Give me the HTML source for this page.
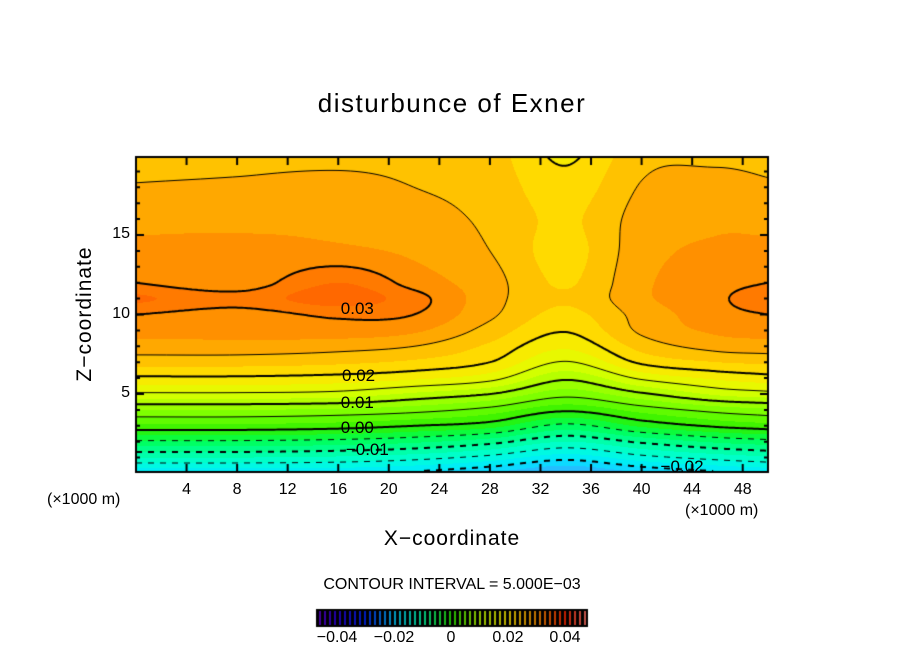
<!DOCTYPE html>
<html><head><meta charset="utf-8"><style>
body{margin:0;background:#fff;width:904px;height:654px;overflow:hidden;font-family:"Liberation Sans",sans-serif}
#wrap{position:relative;width:904px;height:654px}
canvas{position:absolute;left:0;top:0}
.t{position:absolute;color:#000;white-space:nowrap}
</style></head><body>
<div id="wrap">
<canvas id="c" width="904" height="654"></canvas>
<div class="t" style="left:0;width:904px;text-align:center;top:88px;font-size:26px;letter-spacing:1.5px">disturbunce of Exner</div>
<div class="t" style="left:352px;width:200px;text-align:center;top:527px;font-size:21px;letter-spacing:1px">X−coordinate</div>
<div class="t" style="left:-15px;width:200px;text-align:center;top:302px;font-size:21px;letter-spacing:1px;transform:rotate(-90deg)">Z−coordinate</div>
<div class="t" style="left:47px;top:491px;font-size:16px">(×1000 m)</div>
<div class="t" style="left:685px;top:502px;font-size:16px">(×1000 m)</div>
<div class="t" style="left:0;width:904px;text-align:center;top:576px;font-size:16px">CONTOUR INTERVAL = 5.000E−03</div>
<div id="labels"></div>
</div>
<script>
// grid data
const xs=[0,8,16,22,28,34,40,46,50];
const zs=[0,1,2,3,4,5,6,7,8,9,10,11,12,14,16,18,20];
const col0 =[-0.020,-0.0125,-0.0055,0.0018,0.0075,0.0145,0.0195,0.0235,0.0265,0.0285,0.030,0.033,0.030,0.028,0.027,0.0252,0.024];
const col8 =[-0.020,-0.0125,-0.0055,0.0018,0.0075,0.0145,0.0195,0.0235,0.0265,0.0285,0.029,0.031,0.0285,0.028,0.027,0.0255,0.024];
const col16=[-0.020,-0.013,-0.006,0.0012,0.007,0.014,0.019,0.023,0.026,0.029,0.0305,0.034,0.0325,0.028,0.027,0.026,0.024];
const col22=[-0.021,-0.014,-0.007,0.0,0.006,0.012,0.018,0.022,0.025,0.028,0.030,0.031,0.029,0.027,0.026,0.025,0.024];
const col28=[-0.023,-0.016,-0.009,-0.0015,0.004,0.010,0.016,0.020,0.022,0.024,0.0255,0.026,0.026,0.025,0.0245,0.024,0.0235];
const col34=[-0.026,-0.019,-0.0125,-0.0058,0.0005,0.006,0.0105,0.0148,0.018,0.0202,0.0218,0.0228,0.0222,0.0215,0.022,0.021,0.0195];
const col40=[-0.023,-0.016,-0.0095,-0.002,0.0035,0.0095,0.0155,0.0205,0.0235,0.0255,0.026,0.027,0.027,0.0265,0.026,0.0252,0.0242];
const col46=[-0.021,-0.014,-0.007,0.0005,0.006,0.013,0.018,0.0225,0.026,0.028,0.029,0.0295,0.029,0.028,0.027,0.0262,0.0242];
const col50=[-0.020,-0.013,-0.006,0.0015,0.007,0.014,0.019,0.023,0.0265,0.0285,0.030,0.032,0.030,0.028,0.027,0.0255,0.0238];
const cols=[col0,col8,col16,col22,col28,col34,col40,col46,col50];
const xTicks=[4,8,12,16,20,24,28,32,36,40,44,48];
const zTicks=[5,10,15];
const cbTicks=["−0.04","−0.02","0","0.02","0.04"];
const cbTickVals=[-0.04,-0.02,0,0.02,0.04];
const contourLabels=[["0.03",0.03,16.2,10.3],["0.02",0.02,16.3,6.1],["0.01",0.01,16.2,4.4],["0.00",0.00,16.2,2.8],["−0.01",-0.01,16.6,1.4],["−0.02",-0.02,41.5,0.35]];

const L=136,R=768,T=157,B=472,W=R-L,H=B-T;
const sx=x=>L+(x/50)*W;
const sz=z=>473.5-z*15.9;
const ctx=document.getElementById('c').getContext('2d');

function herm(X,Y,x){
 const n=X.length;let i=0;while(i<n-2&&x>X[i+1])i++;
 const h=X[i+1]-X[i];let t=(x-X[i])/h;t=Math.max(0,Math.min(1,t));
 const sl=k=>k===0?(Y[1]-Y[0])/(X[1]-X[0]):k===n-1?(Y[n-1]-Y[n-2])/(X[n-1]-X[n-2]):(Y[k+1]-Y[k-1])/(X[k+1]-X[k-1]);
 const m0=sl(i)*h,m1=sl(i+1)*h,t2=t*t,t3=t2*t;
 return (2*t3-3*t2+1)*Y[i]+(t3-2*t2+t)*m0+(-2*t3+3*t2)*Y[i+1]+(t3-t2)*m1;
}
const F=[];
for(let py=0;py<=H;py++){
 const z=(473.5-(T+py))/15.9;
 const colVals=cols.map(c=>herm(zs,c,z));
 const row=new Float64Array(W+1);
 for(let px=0;px<=W;px++)row[px]=herm(xs,colVals,px/W*50);
 F.push(row);
}
const stops=[[-0.03,[32,128,255]],[-0.025,[48,176,255]],[-0.02,[0,232,255]],[-0.015,[0,255,216]],[-0.01,[0,255,154]],[-0.005,[0,255,80]],[0,[48,240,0]],[0.005,[112,255,0]],[0.01,[168,255,0]],[0.015,[224,255,0]],[0.02,[255,228,0]],[0.0225,[255,208,0]],[0.025,[255,180,0]],[0.0275,[255,156,0]],[0.03,[255,132,0]],[0.0325,[255,112,0]],[0.035,[255,96,0]],[0.04,[255,64,0]]];
function color(v){
 v=Math.floor(v/0.0025)*0.0025+0.00125;
 if(v<=stops[0][0])return stops[0][1];
 for(let k=0;k<stops.length-1;k++){if(v<=stops[k+1][0]){const t=(v-stops[k][0])/(stops[k+1][0]-stops[k][0]);return stops[k][1].map((c,m)=>Math.round(c+(stops[k+1][1][m]-c)*t));}}
 return stops[stops.length-1][1];
}
const img=ctx.createImageData(W,H);
for(let py=0;py<H;py++)for(let px=0;px<W;px++){
 const v=(F[py][px]+F[py+1][px+1])/2;
 const c=color(v);const o=(py*W+px)*4;
 img.data[o]=c[0];img.data[o+1]=c[1];img.data[o+2]=c[2];img.data[o+3]=255;
}
ctx.putImageData(img,L,T);
const N=2;
ctx.save();ctx.beginPath();ctx.rect(L,T,W,H);ctx.clip();
for(let lv=-0.025;lv<=0.0351;lv+=0.005){
 const level=Math.round(lv*1000)/1000;
 const major=Math.abs(Math.round(level*100)-level*100)<1e-6;
 ctx.lineWidth=major?2:1;ctx.strokeStyle='#000';ctx.beginPath();
 for(let py=0;py+N<=H;py+=N)for(let px=0;px+N<=W;px+=N){
  if(level<0&&Math.floor(px/6)%2===1)continue;
  const v0=F[py][px]-level,v1=F[py][px+N]-level,v2=F[py+N][px+N]-level,v3=F[py+N][px]-level;
  const pts=[];
  const X=L+px,Y=T+py;
  const e=(a,b,ax,ay,bx,by)=>{if((a<0)!==(b<0)){const t=a/(a-b);pts.push([ax+(bx-ax)*t,ay+(by-ay)*t]);}};
  e(v0,v1,X,Y,X+N,Y);e(v1,v2,X+N,Y,X+N,Y+N);e(v2,v3,X+N,Y+N,X,Y+N);e(v3,v0,X,Y+N,X,Y);
  for(let k=0;k+1<pts.length;k+=2){ctx.moveTo(pts[k][0],pts[k][1]);ctx.lineTo(pts[k+1][0],pts[k+1][1]);}
 }
 ctx.stroke();
}
ctx.restore();
ctx.strokeStyle='#000';ctx.lineWidth=2;ctx.strokeRect(L,T,W,H);
ctx.lineWidth=2;ctx.beginPath();
xTicks.forEach(t=>{const x=sx(t);ctx.moveTo(x,B);ctx.lineTo(x,B-8);ctx.moveTo(x,T);ctx.lineTo(x,T+8);});
for(let z=1;z<20;z++){const y=sz(z),l=z%5===0?8:4;ctx.moveTo(L,y);ctx.lineTo(L+l,y);ctx.moveTo(R,y);ctx.lineTo(R-l,y);}
ctx.stroke();
const lab=document.getElementById('labels');
xTicks.forEach(t=>{const d=document.createElement('div');d.className='t';


d.style.cssText=`left:${sx(t)-20}px;width:40px;text-align:center;top:481px;font-size:16px`;d.textContent=t;lab.appendChild(d);});
zTicks.forEach(t=>{const d=document.createElement('div');d.className='t';


d.style.cssText=`left:94px;width:36px;text-align:right;top:${sz(t)-10}px;font-size:16px`;d.textContent=t;lab.appendChild(d);});
contourLabels.forEach(c=>{const d=document.createElement('div');d.className='t';


d.style.cssText=`left:${sx(c[2])}px;top:${sz(c[3])-11}px;font-size:17px`;d.textContent=c[0];lab.appendChild(d);});
const cbL=316,cbR=588,cbT=609,cbB=627;
const cbx=v=>451+v/0.02*57;
ctx.fillStyle='#000';ctx.fillRect(cbL,cbT,cbR-cbL,cbB-cbT);
const cbStops=[[-0.05,[120,0,200]],[-0.04,[40,0,220]],[-0.03,[0,40,255]],[-0.02,[0,200,255]],[-0.01,[0,255,170]],[0,[40,240,0]],[0.01,[190,255,0]],[0.02,[255,230,0]],[0.03,[255,150,0]],[0.04,[255,40,0]],[0.05,[255,140,140]]];
ctx.lineWidth=1.5;
for(let x=cbL+4;x<cbR-2;x+=5){const v=(x-451)/57*0.02;let c=cbStops[0][1];
 for(let k=0;k<cbStops.length-1;k++){if(v>=cbStops[k][0]&&v<=cbStops[k+1][0]){const t=(v-cbStops[k][0])/(cbStops[k+1][0]-cbStops[k][0]);c=cbStops[k][1].map((q,m)=>Math.round(q+(cbStops[k+1][1][m]-q)*t));}}
 if(v>0.05)c=cbStops[cbStops.length-1][1];
 ctx.strokeStyle=`rgb(${c})`;ctx.beginPath();ctx.moveTo(x,cbT+2);ctx.lineTo(x,cbB-2);ctx.stroke();}
cbTicks.forEach((t,i)=>{const d=document.createElement('div');d.className='t';


d.style.cssText=`left:${cbx(cbTickVals[i])-30}px;width:60px;text-align:center;top:629px;font-size:16px`;d.textContent=t;lab.appendChild(d);});
</script>
</body></html>
